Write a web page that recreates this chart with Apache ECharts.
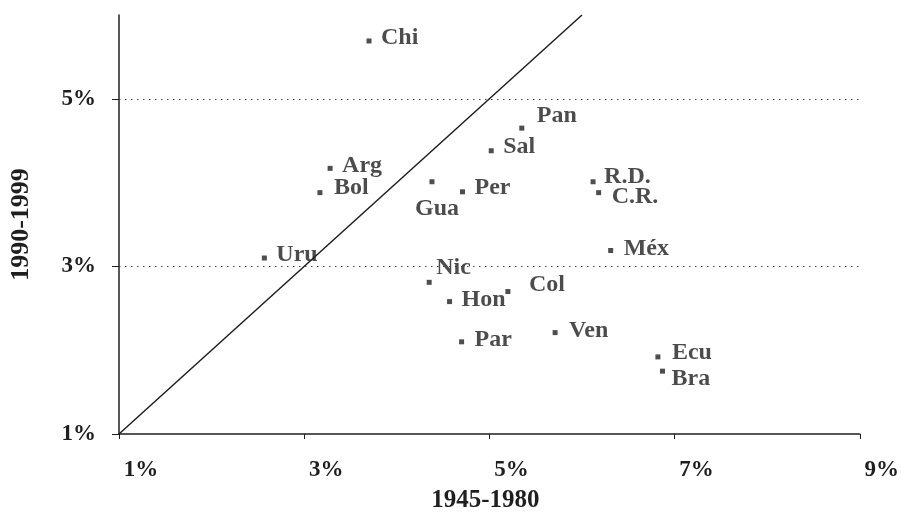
<!DOCTYPE html>
<html>
<head>
<meta charset="utf-8">
<script src="https://cdn.jsdelivr.net/npm/echarts@6/dist/echarts.min.js"></script>
<style>
  html, body { margin: 0; padding: 0; background: #fff; }
  #chart { width: 902px; height: 519px; }
</style>
</head>
<body>
<div id="chart"></div>
<script>
// growth rates, 1945-1980 (x) vs 1990-1999 (y), in %
const countries = ['Chi', 'Pan', 'Sal', 'Arg', 'Bol', 'Gua', 'Per', 'R.D.', 'C.R.', 'Méx',
  'Uru', 'Nic', 'Hon', 'Col', 'Par', 'Ven', 'Ecu', 'Bra']
const growth4580 = [3.70, 5.35, 5.02, 3.28, 3.17, 4.38, 4.71, 6.12, 6.18, 6.31,
  2.57, 4.35, 4.57, 5.20, 4.70, 5.71, 6.82, 6.87]
const growth9099 = [5.69, 4.65, 4.38, 4.17, 3.88, 4.01, 3.89, 4.01, 3.88, 3.19,
  3.10, 2.81, 2.58, 2.70, 2.10, 2.21, 1.92, 1.75]
const xTicks = [1, 3, 5, 7, 9]
const yTicks = [1, 3, 5]
const refLines = [3, 5]
const diagonal = [[1, 1], [6, 6]]

const ink = '#1f1f1f'
const font = 'Liberation Serif'

// label nudges (dx from marker centre to text start, dy to text centre)
const place = {
  'Chi': [12, -3], 'Pan': [15, -12], 'Sal': [12, -4], 'Arg': [12, -3],
  'Bol': [14, -5], 'Per': [12, -4], 'R.D.': [11, -5], 'C.R.': [13, 4],
  'Méx': [13, -2], 'Uru': [12, -3], 'Nic': [7, -15], 'Hon': [12, -2],
  'Col': [21, -7], 'Par': [13, -2], 'Ven': [14, -2], 'Ecu': [14, -4], 'Bra': [9, 8]
}

const points = countries.map((c, i) => {
  const p = { name: c, value: [growth4580[i], growth9099[i]] }
  if (c === 'Gua') {
    p.label = { position: 'bottom', distance: 0, offset: [5, 13] }
  } else {
    const d = place[c]
    p.label = { position: 'right', distance: 0, offset: [d[0] - 2.5, d[1]] }
  }
  return p
})

const chart = echarts.init(document.getElementById('chart'))
chart.setOption({
  animation: false,
  grid: { left: 112, right: 42, top: 15, bottom: 85 },
  xAxis: {
    type: 'value',
    min: 1,
    max: 9,
    interval: 2,
    name: '1945-1980',
    nameLocation: 'middle',
    nameGap: 54,
    nameTextStyle: { color: ink, fontFamily: font, fontWeight: 'bold', fontSize: 25, padding: [0, 8, 0, 0] },
    axisLine: { lineStyle: { color: ink, width: 1.5 } },
    axisTick: { show: true, length: 5, lineStyle: { color: ink } },
    splitLine: { show: false },
    axisLabel: {
      color: ink, fontFamily: font, fontWeight: 'bold', fontSize: 23,
      margin: 25, padding: [0, 0, 0, 44],
      formatter: v => xTicks.includes(v) ? v + '%' : ''
    }
  },
  yAxis: {
    type: 'value',
    min: 1,
    max: 6,
    interval: 2,
    name: '1990-1999',
    nameLocation: 'middle',
    nameRotate: 90,
    nameGap: 85,
    nameTextStyle: { color: ink, fontFamily: font, fontWeight: 'bold', fontSize: 26 },
    axisLine: { show: true, lineStyle: { color: ink, width: 1.5 } },
    axisTick: { show: true, length: 7, lineStyle: { color: ink }, customValues: yTicks },
    splitLine: { show: false },
    axisLabel: {
      color: ink, fontFamily: font, fontWeight: 'bold', fontSize: 23,
      margin: 23, padding: [0, 0, 4, 0], customValues: yTicks,
      formatter: v => v + '%'
    }
  },
  series: [
    {
      type: 'line',
      data: diagonal,
      symbol: 'none',
      lineStyle: { color: ink, width: 1.5 },
      silent: true,
      markLine: {
        silent: true,
        symbol: 'none',
        label: { show: false },
        lineStyle: { color: '#444', width: 1, type: [1.5, 4.5] },
        data: refLines.map(v => ({ yAxis: v }))
      }
    },
    {
      type: 'scatter',
      data: points,
      symbol: 'rect',
      symbolSize: 5,
      itemStyle: { color: '#222' },
      label: {
        show: true,
        formatter: p => p.name,
        color: ink,
        fontFamily: font,
        fontWeight: 'bold',
        fontSize: 24
      }
    }
  ]
})
</script>
</body>
</html>
